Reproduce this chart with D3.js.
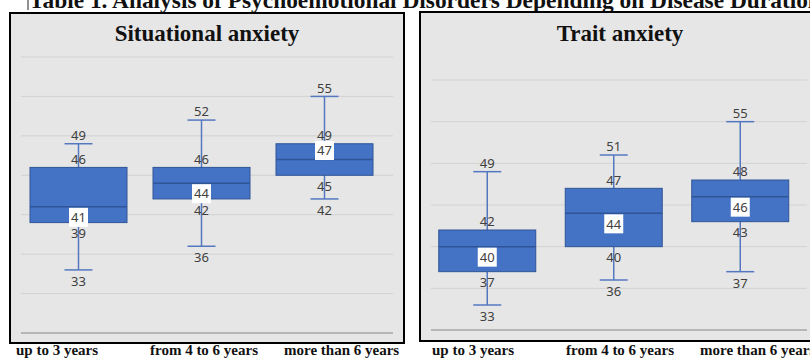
<html>

<head>
    <style>
        body { margin: 0; background: #fff; }
        .num { font-family: "Noto Sans", sans-serif; font-size: 13px; fill: #404040; }
        .serif { font-family: "Liberation Serif", "Times New Roman", serif; font-weight: bold; fill: #111; }
    </style>
</head>

<body>
    <svg id="chart"></svg>
</body>
<script src="https://cdn.jsdelivr.net/npm/d3@7"></script>
<script>
    // data
    let categories = ["up to 3 years", "from 4 to 6 years", "more than 6 years"]

    let sitMin = [33, 36, 42]
    let sitQ1 = [39, 42, 45]
    let sitMedian = [41, 44, 47]
    let sitQ3 = [46, 46, 49]
    let sitMax = [49, 52, 55]
    let sitTicks = [25, 30, 35, 40, 45, 50, 55, 60]

    let traitMin = [33, 36, 37]
    let traitQ1 = [37, 40, 43]
    let traitMedian = [40, 44, 46]
    let traitQ3 = [42, 47, 48]
    let traitMax = [49, 51, 55]
    let traitTicks = [30, 35, 40, 45, 50, 55, 60]

    let tableTitle = "Table 1. Analysis of Psychoemotional Disorders Depending on Disease Duration"

    let width = 810, height = 361
    let svg = d3.select("#chart").attr("width", width).attr("height", height)

    svg.append("text").attr("class", "serif")
        .attr("x", 29).attr("y", 8)
        .style("font-size", "23.4px")
        .text(tableTitle)
    svg.append("line").attr("x1", 28).attr("x2", 28).attr("y1", 0).attr("y2", 10)
        .attr("stroke", "#222").attr("stroke-width", 1)

    function drawPanel(opt) {
        let g = svg.append("g")

        g.append("rect")
            .attr("x", opt.frame[0]).attr("y", opt.frame[1])
            .attr("width", opt.frame[2]).attr("height", opt.frame[3])
            .attr("fill", "#e6e6e6").attr("stroke", "#000").attr("stroke-width", 2)

        g.append("text").attr("class", "serif")
            .attr("x", opt.titleX).attr("y", 41)
            .attr("text-anchor", "middle")
            .style("font-size", "23px")
            .text(opt.title)

        let y = d3.scaleLinear().domain(d3.extent(opt.ticks)).range(opt.yRange)
        let x = d3.scaleBand().domain(categories).range(opt.xRange)

        g.selectAll(".grid").data(opt.ticks).enter().append("line")
            .attr("x1", opt.gridX[0]).attr("x2", opt.gridX[1])
            .attr("y1", d => y(d)).attr("y2", d => y(d))
            .attr("stroke", (d, i) => i == 0 ? "#a6a6a6" : "#d2d2d2")
            .attr("stroke-width", (d, i) => i == 0 ? 1.5 : 1)

        let rows = categories.map((c, i) => ({
            cat: c, min: opt.min[i], q1: opt.q1[i], med: opt.med[i], q3: opt.q3[i], max: opt.max[i],
            medAbove: opt.medAbove[i]
        }))
        let boxW = 97, capW = 28
        let cx = d => x(d.cat) + x.bandwidth() / 2

        let box = g.selectAll(".box").data(rows).enter().append("g")

        // whiskers
        box.append("line")
            .attr("x1", cx).attr("x2", cx)
            .attr("y1", d => y(d.max)).attr("y2", d => y(d.min))
            .attr("stroke", "#5478c0").attr("stroke-width", 1.5)
        box.selectAll(".cap").data(d => [d.min, d.max].map(v => ({ v, c: cx(d) }))).enter().append("line")
            .attr("x1", d => d.c - capW / 2).attr("x2", d => d.c + capW / 2)
            .attr("y1", d => y(d.v)).attr("y2", d => y(d.v))
            .attr("stroke", "#5478c0").attr("stroke-width", 1.5)

        box.append("rect")
            .attr("x", d => cx(d) - boxW / 2).attr("width", boxW)
            .attr("y", d => y(d.q3)).attr("height", d => y(d.q1) - y(d.q3))
            .attr("fill", "#4472c4").attr("stroke", "#2f5597").attr("stroke-width", 1)
        box.append("line")
            .attr("x1", d => cx(d) - boxW / 2).attr("x2", d => cx(d) + boxW / 2)
            .attr("y1", d => y(d.med)).attr("y2", d => y(d.med))
            .attr("stroke", "#2f5597").attr("stroke-width", 1.5)

        // value labels: above for max / q3, below for the rest
        let labels = []
        rows.forEach(d => {
            let c = cx(d)
            labels.push({ c, v: d.max, off: -8.5 })
            labels.push({ c, v: d.q3, off: -8.5 })
            labels.push({ c, v: d.med, off: d.medAbove ? -9 : 10.5, bg: true })
            labels.push({ c, v: d.q1, off: 11 })
            labels.push({ c, v: d.min, off: 11.5 })
        })
        g.selectAll(".lblbg").data(labels.filter(l => l.bg)).enter().append("rect")
            .attr("x", d => d.c - 9.5).attr("width", 19)
            .attr("y", d => y(d.v) + d.off - 9.5).attr("height", 19)
            .attr("fill", "#fff")
        g.selectAll(".lbl").data(labels).enter().append("text")
            .attr("class", "num")
            .attr("x", d => d.c)
            .attr("y", d => y(d.v) + d.off + 4.7)
            .attr("text-anchor", "middle")
            .text(d => d.v)

        // category names under the frame
        let fx = d3.scaleBand().domain(categories).range(opt.footRange)
        g.selectAll(".foot").data(categories).enter().append("text")
            .attr("class", "serif")
            .attr("x", d => fx(d) + 6).attr("y", 355)
            .style("font-size", "15px")
            .text(d => d)
    }

    drawPanel({
        title: "Situational anxiety", titleX: 207,
        frame: [10, 13, 394, 330],
        yRange: [333, 57], xRange: [17, 386], gridX: [21, 393],
        ticks: sitTicks,
        min: sitMin, q1: sitQ1, med: sitMedian, q3: sitQ3, max: sitMax,
        medAbove: [false, false, true],
        footRange: [10, 412]
    })

    drawPanel({
        title: "Trait anxiety", titleX: 620,
        frame: [420, 12, 420, 329],
        yRange: [330, 80], xRange: [424, 803.5], gridX: [431, 807],
        ticks: traitTicks,
        min: traitMin, q1: traitQ1, med: traitMedian, q3: traitQ3, max: traitMax,
        medAbove: [false, false, false],
        footRange: [426, 828]
    })
</script>

</html>
